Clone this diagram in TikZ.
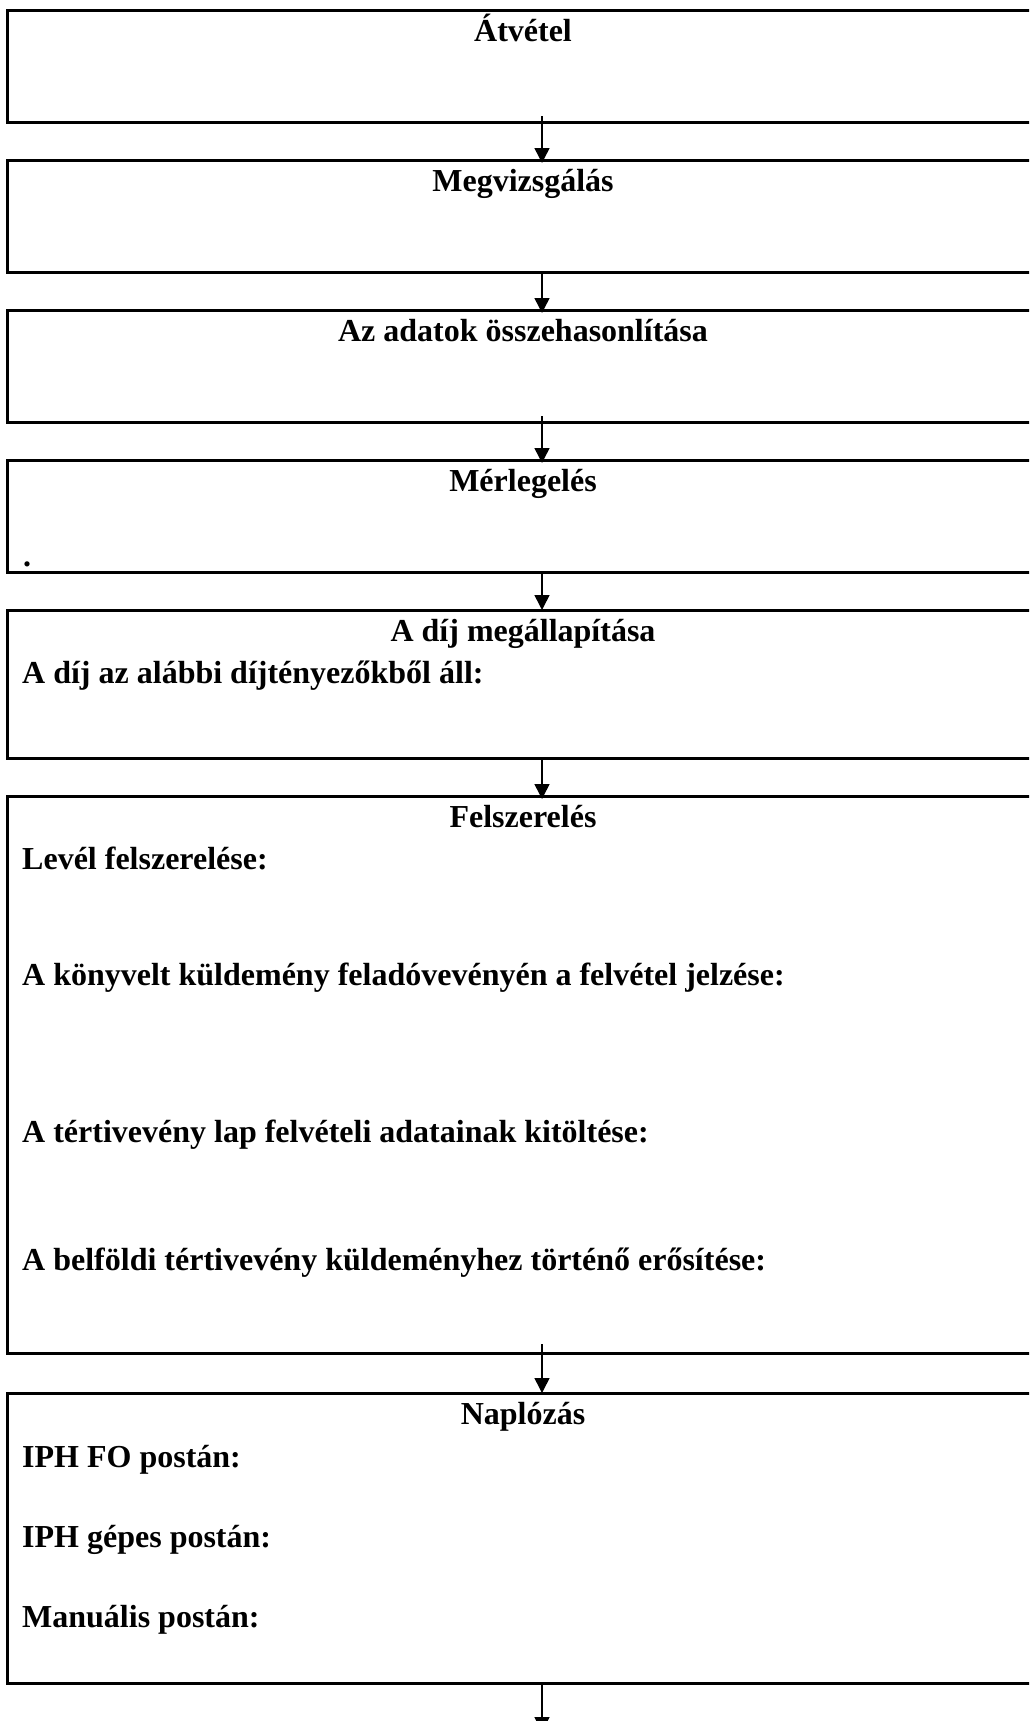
\documentclass[tikz,border=0pt]{standalone}
\usepackage{fontspec}
\setmainfont{Liberation Serif}
\usetikzlibrary{arrows.meta}
\begin{document}
\begin{tikzpicture}[x=1pt,y=-1pt,
  box/.style={draw=black, line width=3pt, rectangle, inner sep=0pt, outer sep=0pt, minimum width=1033pt, anchor=north west},
  ttl/.style={font=\fontsize{32}{37}\selectfont\bfseries, inner sep=0pt, anchor=base},
  txt/.style={font=\fontsize{32}{37}\selectfont\bfseries, inner sep=0pt, anchor=base west},
  arr/.style={line width=1.5pt, -{Triangle[width=15pt,length=15pt]}}]
\useasboundingbox (0,0) rectangle (1029,1721);
\fill[white] (0,0) rectangle (1029,1721);
\clip (0,0) rectangle (1029,1721);
\coordinate (ax) at (542,0);
% boxes
\node[box, minimum height=112pt] (b1) at (7,10) {};
\node[box, minimum height=112pt] (b2) at (7,160) {};
\node[box, minimum height=112pt] (b3) at (7,310) {};
\node[box, minimum height=112pt] (b4) at (7,460) {};
\node[box, minimum height=148pt] (b5) at (7,610) {};
\node[box, minimum height=557pt] (b6) at (7,796) {};
\node[box, minimum height=290pt] (b7) at (7,1393) {};
% titles
\node[ttl] (t1) at (523,41.5) {Átvétel};
\node[ttl] (t2) at (523,191.5) {Megvizsgálás};
\node[ttl] (t3) at (523,341.5) {Az adatok összehasonlítása};
\node[ttl] (t4) at (523,491.5) {Mérlegelés};
\node[ttl] (t5) at (523,641.5) {A díj megállapítása};
\node[ttl] (t6) at (523,827.5) {Felszerelés};
\node[ttl] (t7) at (523,1424.5) {Naplózás};
% body texts
\node[txt] (d4) at (23,566) {.};
\node[txt] (l5a) at (22,683) {A díj az alábbi díjtényezőkből áll:};
\node[txt] (l6a) at (22,869) {Levél felszerelése:};
\node[txt] (l6b) at (22,985) {A könyvelt küldemény feladóvevényén a felvétel jelzése:};
\node[txt] (l6c) at (22,1142) {A tértivevény lap felvételi adatainak kitöltése:};
\node[txt] (l6d) at (22,1270) {A belföldi tértivevény küldeményhez történő erősítése:};
\node[txt] (l7a) at (22,1467) {IPH FO postán:};
\node[txt] (l7b) at (22,1547) {IPH gépes postán:};
\node[txt] (l7c) at (22,1627) {Manuális postán:};
% connectors
\coordinate (end) at (542,1732);
\draw[arr, shorten <=-6pt] (b1.south -| ax) -- ([yshift=-3pt]b2.north -| ax);
\draw[arr] (b2.south -| ax) -- ([yshift=-3pt]b3.north -| ax);
\draw[arr, shorten <=-6pt] (b3.south -| ax) -- ([yshift=-3pt]b4.north -| ax);
\draw[arr] (b4.south -| ax) -- (b5.north -| ax);
\draw[arr] (b5.south -| ax) -- ([yshift=-3pt]b6.north -| ax);
\draw[arr, shorten <=-9pt] (b6.south -| ax) -- (b7.north -| ax);
\draw[arr] (b7.south -| ax) -- (end);
\end{tikzpicture}
\end{document}
